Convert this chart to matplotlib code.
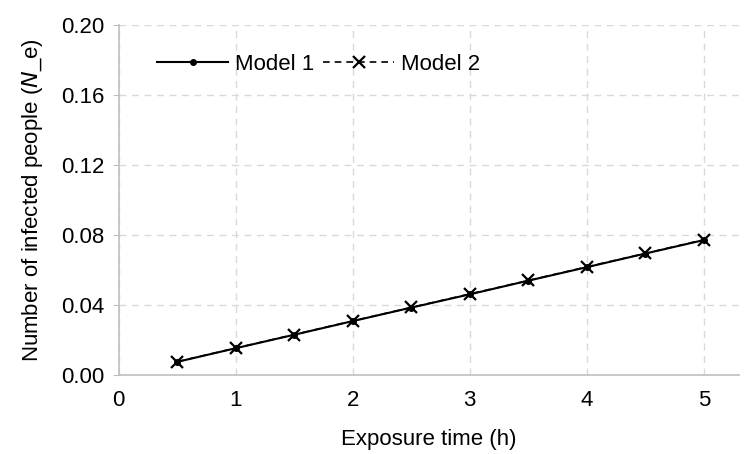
import matplotlib.pyplot as plt
import numpy as np

plt.rcParams['font.family'] = ['Liberation Sans', 'DejaVu Sans']

# Exposure time (h) and infected people for both models
hours = [0.5, 1.0, 1.5, 2.0, 2.5, 3.0, 3.5, 4.0, 4.5, 5.0]
model1 = [0.0075, 0.0153, 0.0230, 0.0308, 0.0385, 0.0461, 0.0539, 0.0616, 0.0694, 0.0771]
model2 = [0.0076, 0.0154, 0.0231, 0.0309, 0.0386, 0.0463, 0.0540, 0.0618, 0.0695, 0.0773]

x_ticks = [0, 1, 2, 3, 4, 5]
y_ticks = [0.00, 0.04, 0.08, 0.12, 0.16, 0.20]

fig = plt.figure(figsize=(7.51, 4.54), dpi=100)
ax = fig.add_axes([0.158, 0.174, 0.826, 0.771])

ax.plot(hours, model1, color='black', lw=1.5, marker='o', ms=4, label='Model 1')
ax.plot(hours, model2, color='black', lw=1.2, ls=(0, (4, 3)), marker='x', ms=9,
        mew=1.6, label='Model 2')

ax.set_xlim(0, 5.3)
ax.set_ylim(0, 0.20)
ax.set_xticks(x_ticks)
ax.set_yticks(y_ticks)
ax.set_yticklabels(['%.2f' % v for v in y_ticks])

ax.grid(True, color='#d9d9d9', ls=(0, (5, 4)), lw=1)
ax.set_axisbelow(True)
for s in ['top', 'right']:
    ax.spines[s].set_visible(False)
for s in ['left', 'bottom']:
    ax.spines[s].set_color('#bfbfbf')
    ax.spines[s].set_linewidth(1.2)

ax.tick_params(axis='x', length=0, pad=11, labelsize=16)
ax.tick_params(axis='y', length=4, color='#bfbfbf', pad=6, labelsize=16)

ax.set_xlabel('Exposure time (h)', fontsize=16, labelpad=13)
ax.set_ylabel('Number of infected people ($N$_e)', fontsize=16, labelpad=12)

ax.legend(loc='upper left', bbox_to_anchor=(0.03, 0.975), ncol=2, frameon=False,
          fontsize=16, handlelength=3.2, columnspacing=0.4, handletextpad=0.3)

fig.savefig('out.png', dpi=100)
